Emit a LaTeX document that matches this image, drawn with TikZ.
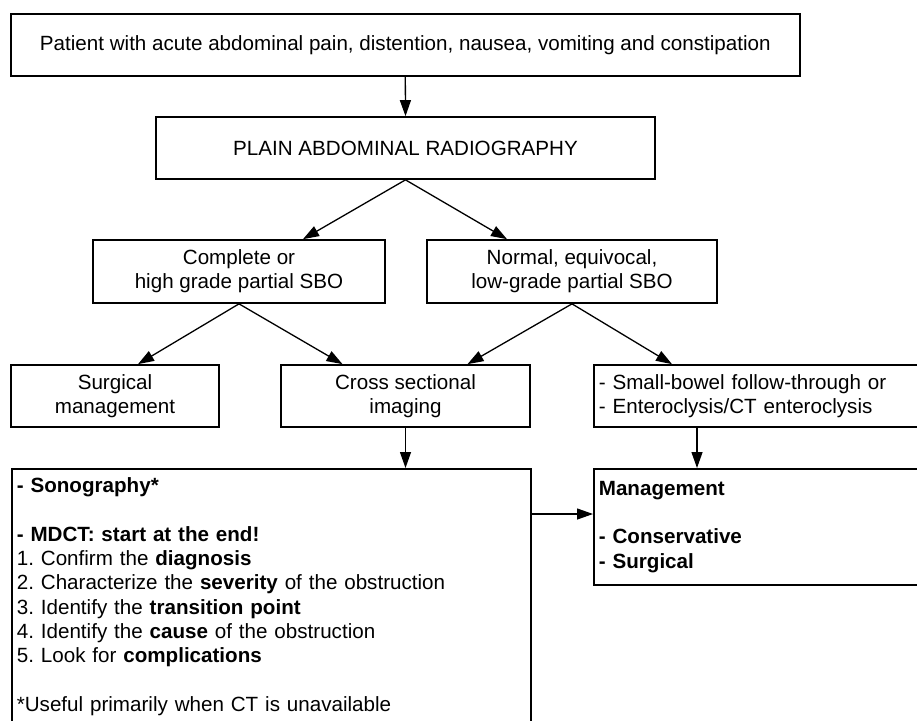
\documentclass[tikz,border=0pt]{standalone}
\usepackage{fontspec}
\setmainfont{Liberation Sans}
\usepackage{tikz}
\usetikzlibrary{arrows.meta,positioning}
\frenchspacing

\begin{document}
\begin{tikzpicture}[x=1pt, y=1pt,
  box/.style={draw, line width=1.7pt, align=center, minimum height=62pt,
              inner sep=5pt, font=\fontsize{20.6}{24.3}\selectfont},
  leftbox/.style={box, align=left, text width=320pt},
  arr/.style={-{Triangle[length=16pt,width=11pt]}, line width=1.3pt}
]
\useasboundingbox (0,0) rectangle (917,-720);
\clip (0,0) rectangle (917,-720);
\node[box, minimum width=789pt] (patient) at (405.3,-45)
  {Patient with acute abdominal pain, distention, nausea, vomiting and constipation};
\node[box, minimum width=499pt] (plain) at (405.5,-148) {PLAIN ABDOMINAL RADIOGRAPHY};
\node[box, minimum width=292pt, minimum height=63pt] (complete) at (239,-271.5)
  {Complete or\\high grade partial SBO};
\node[box, minimum width=290pt, minimum height=63pt] (normal) at (572,-271.5)
  {Normal, equivocal,\\low-grade partial SBO};
\node[box, minimum width=208pt] (surgical) at (115,-396) {Surgical\\management};
\node[box, minimum width=249pt] (cross) at (405.5,-396) {Cross sectional\\imaging};
\node[leftbox, anchor=west] (small) at (593,-396)
  {- Small-bowel follow-through or\\- Enteroclysis/CT enteroclysis};
\node[box, align=left, anchor=north west, text width=509pt, inner ysep=9pt] (imaging) at (11,-468)
  {\textbf{- Sonography*}\\[24.3pt]
   \textbf{- MDCT: start at the end!}\\
   1. Confirm the \textbf{diagnosis}\\
   2. Characterize the \textbf{severity} of the obstruction\\
   3. Identify the \textbf{transition point}\\
   4. Identify the \textbf{cause} of the obstruction\\
   5. Look for \textbf{complications}\\[24.3pt]
   *Useful primarily when CT is unavailable\rule[-30pt]{0pt}{0pt}};
\node[leftbox, anchor=north west, minimum height=116pt] (mgmt) at (593,-468)
  {\textbf{Management}\\[24.3pt]
   \textbf{- Conservative}\\
   \textbf{- Surgical}};
\draw[arr] (patient.south) -- (plain.north);
\draw[arr] (plain.south) -- ([xshift=64pt]complete.north);
\draw[arr] (plain.south) -- ([xshift=-65pt]normal.north);
\draw[arr] (complete.south) -- ([xshift=23pt]surgical.north);
\draw[arr] (complete.south) -- ([xshift=-63pt]cross.north);
\draw[arr] (normal.south) -- ([xshift=62pt]cross.north);
\draw[arr] (normal.south) -- ([xshift=79pt]small.north west);
\draw[arr] (cross.south) -- (cross.south |- imaging.north);
\draw[arr] ([xshift=104pt]small.south west) -- ([xshift=104pt]mgmt.north west);
\draw[arr] ([yshift=-46pt]imaging.north east) -- ([yshift=-46pt]mgmt.north west);
\end{tikzpicture}
\end{document}
